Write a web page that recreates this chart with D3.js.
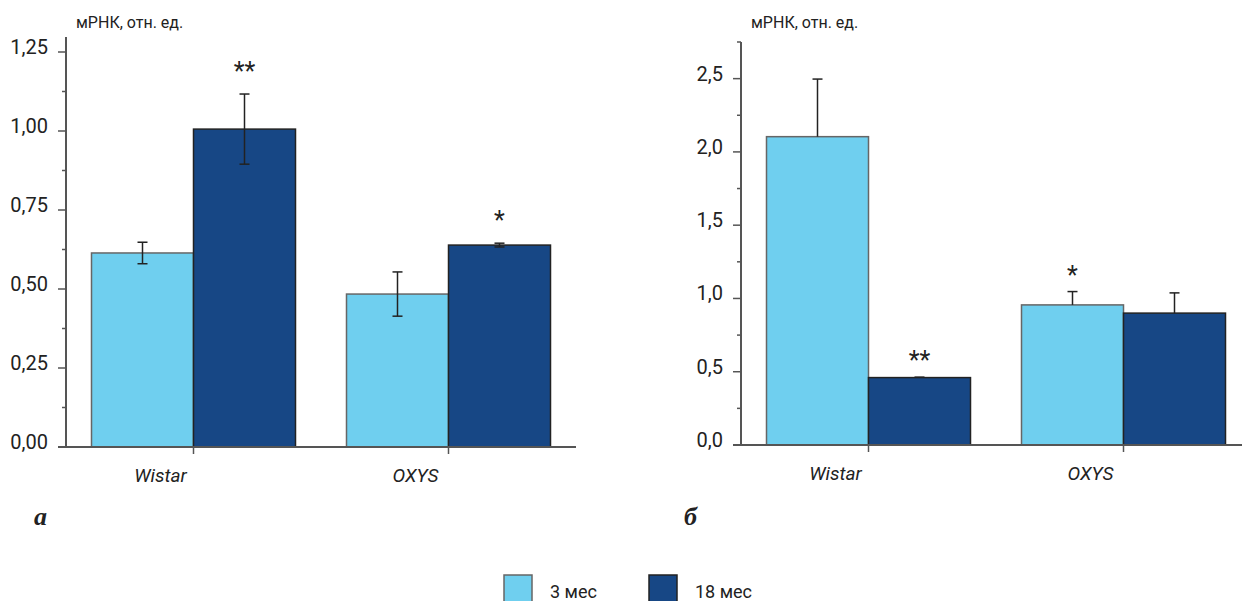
<!DOCTYPE html>
<html>
<head>
<meta charset="utf-8">
<script src="https://cdn.jsdelivr.net/npm/d3@7"></script>
<style>
body { margin: 0; background: #fff; }
svg { display: block; font-family: Roboto, "Liberation Sans", sans-serif; }
</style>
</head>
<body>
<svg id="chart" width="1242" height="601"></svg>
<script>
// data
var categories = ['Wistar', 'OXYS'];
var series = ['3 мес', '18 мес'];
var colors = ['#6fcfef', '#174785'];
var strokes = ['#666', '#222'];

// panel а
var valuesA = [[0.614, 1.006], [0.484, 0.639]];
var errorsA = [[0.034, 0.111], [0.07, 0.006]];
var marksA = [['', '**'], ['', '*']];
var ticksA = [0, 0.25, 0.5, 0.75, 1.0, 1.25];
// panel б
var valuesB = [[2.104, 0.46], [0.956, 0.90]];
var errorsB = [[0.393, 0.003], [0.091, 0.138]];
var marksB = [['', '**'], ['*', '']];
var ticksB = [0, 0.5, 1.0, 1.5, 2.0, 2.5];

var svg = d3.select('#chart');

function drawPanel(opt){
    var g = svg.append('g');
    var y = d3.scaleLinear().domain([0, opt.ymax]).range([opt.y0, opt.y1]);
    var x = d3.scaleBand().domain(categories).range([opt.x0, opt.x0 + 510]).padding(0);
    var bw = x.bandwidth();
    var xs = d3.scaleBand().domain(series).range([0, bw * 0.8]).padding(0);
    var off = bw * 0.1;

    // bars
    opt.values.forEach(function(row, i){
        row.forEach(function(v, j){
            var bx = x(categories[i]) + off + xs(series[j]);
            g.append('rect')
                .attr('x', bx)
                .attr('y', y(v))
                .attr('width', xs.bandwidth())
                .attr('height', y(0) - y(v))
                .attr('fill', colors[j])
                .attr('stroke', strokes[j])
                .attr('stroke-width', 1.5);
        });
    });

    // error bars
    opt.values.forEach(function(row, i){
        row.forEach(function(v, j){
            var cx = x(categories[i]) + off + xs(series[j]) + xs.bandwidth() / 2;
            var e = opt.errors[i][j];
            var lo = opt.oneSided ? v : v - e;
            var hi = v + e;
            g.append('line')
                .attr('x1', cx).attr('x2', cx)
                .attr('y1', y(lo)).attr('y2', y(hi))
                .attr('stroke', '#222').attr('stroke-width', 1.5);
            g.append('line')
                .attr('x1', cx - 5).attr('x2', cx + 5)
                .attr('y1', y(hi)).attr('y2', y(hi))
                .attr('stroke', '#222').attr('stroke-width', 1.5);
            if (!opt.oneSided) {
                g.append('line')
                    .attr('x1', cx - 5).attr('x2', cx + 5)
                    .attr('y1', y(lo)).attr('y2', y(lo))
                    .attr('stroke', '#222').attr('stroke-width', 1.5);
            }
            var m = opt.marks[i][j];
            if (m) {
                g.append('text')
                    .attr('x', cx)
                    .attr('y', y(hi) - opt.markGap)
                    .attr('text-anchor', 'middle')
                    .attr('font-size', 25)
                    .attr('fill', '#222')
                    .text(m);
            }
        });
    });

    // y axis
    var axis = opt.x0;
    g.append('line')
        .attr('x1', axis).attr('x2', axis)
        .attr('y1', y(0)).attr('y2', opt.axisTop)
        .attr('stroke', '#555').attr('stroke-width', 2);
    var minor = d3.range(0, opt.ymax + 1e-9, opt.step / 2);
    g.selectAll('.tk').data(minor).enter().append('line')
        .attr('x1', function(d, i){ return i % 2 == 0 ? axis - 8 : axis - 4; })
        .attr('x2', axis)
        .attr('y1', function(d){ return y(d); })
        .attr('y2', function(d){ return y(d); })
        .attr('stroke', '#555').attr('stroke-width', 1.5);
    g.selectAll('.tl').data(opt.ticks).enter().append('text')
        .attr('x', axis - 18)
        .attr('y', function(d){ return y(d) + 2; })
        .attr('text-anchor', 'end')
        .attr('font-size', 20)
        .attr('fill', '#222')
        .text(function(d){ return d.toFixed(opt.dec).replace('.', ','); });
    g.append('text')
        .attr('x', axis + 10).attr('y', 28)
        .attr('font-size', 16).attr('fill', '#222')
        .text('мРНК, отн. ед.');

    // x axis
    g.append('line')
        .attr('x1', axis - 8).attr('x2', opt.x0 + 510)
        .attr('y1', y(0)).attr('y2', y(0))
        .attr('stroke', '#555').attr('stroke-width', 2);
    categories.forEach(function(c){
        var cx = x(c) + bw / 2;
        g.append('line')
            .attr('x1', cx).attr('x2', cx)
            .attr('y1', y(0)).attr('y2', y(0) + 7)
            .attr('stroke', '#555').attr('stroke-width', 1.5);
        g.append('text')
            .attr('x', cx - 33).attr('y', y(0) + 35)
            .attr('text-anchor', 'middle')
            .attr('font-size', 19).attr('font-style', 'italic')
            .attr('fill', '#222')
            .text(c);
    });
    g.append('text')
        .attr('x', opt.letterX).attr('y', 525)
        .attr('font-family', '"Liberation Serif", "DejaVu Serif", serif')
        .attr('font-size', 26).attr('font-weight', 'bold').attr('font-style', 'italic')
        .attr('fill', '#222')
        .text(opt.letter);
}

drawPanel({x0: 66, y0: 447, y1: 52, ymax: 1.25, step: 0.25, axisTop: 37, dec: 2,
    values: valuesA, errors: errorsA, marks: marksA, ticks: ticksA,
    oneSided: false, markGap: 14, letter: 'а', letterX: 34});
drawPanel({x0: 741, y0: 445, y1: 42, ymax: 2.75, step: 0.5, axisTop: 42, dec: 1,
    values: valuesB, errors: errorsB, marks: marksB, ticks: ticksB,
    oneSided: true, markGap: 8, letter: 'б', letterX: 684});

// legend
var leg = svg.append('g');
var legX = [504, 649];
series.forEach(function(s, j){
    leg.append('rect')
        .attr('x', legX[j]).attr('y', 575)
        .attr('width', 28).attr('height', 30)
        .attr('fill', colors[j])
        .attr('stroke', strokes[j]).attr('stroke-width', 1.5);
    leg.append('text')
        .attr('x', legX[j] + 46).attr('y', 598)
        .attr('font-size', 18).attr('fill', '#222')
        .text(s);
});
</script>
</body>
</html>
